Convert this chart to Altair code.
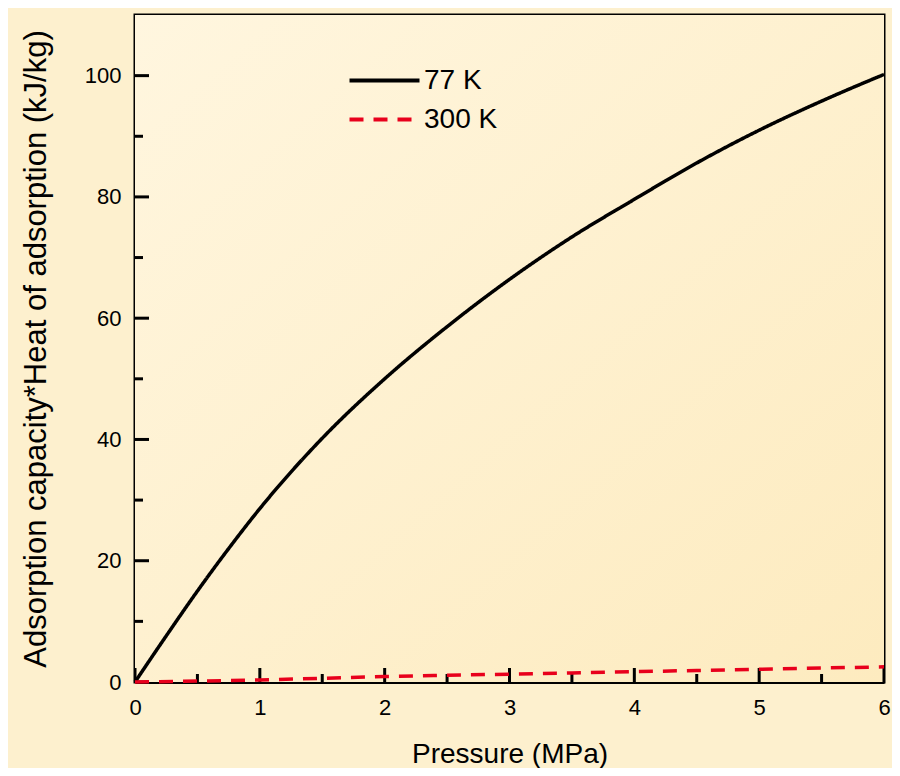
import altair as alt
import pandas as pd

# ---- data ----
pressure_77 = [0, 0.25, 0.5, 0.75, 1, 1.5, 2, 2.5, 3, 3.5, 4, 4.5, 5, 5.5, 6]
value_77 = [0, 7.6, 15.0, 22.0, 28.6, 40.2, 50.0, 58.6, 66.4, 73.4, 79.6, 85.6, 91.0, 95.8, 100.2]

pressure_300 = [0, 0.5, 1, 1.5, 2, 2.5, 3, 3.5, 4, 4.5, 5, 5.5, 6]
value_300 = [0, 0.15, 0.35, 0.6, 0.9, 1.1, 1.3, 1.5, 1.7, 1.9, 2.1, 2.3, 2.5]

series = ["77 K", "300 K"]
series_colors = ["#000000", "#E8001C"]
series_dash = [[1, 0], [14, 10]]

x_domain = [0, 6]
y_domain = [0, 110]
x_major = [0, 1, 2, 3, 4, 5, 6]
x_minor = [0.5, 1.5, 2.5, 3.5, 4.5, 5.5]
y_major = [0, 20, 40, 60, 80, 100]
y_minor = [10, 30, 50, 70, 90]

FONT = "Liberation Sans"

df = pd.concat([
    pd.DataFrame({"p": pressure_77, "v": value_77, "series": series[0]}),
    pd.DataFrame({"p": pressure_300, "v": value_300, "series": series[1]}),
], ignore_index=True)

bg_df = pd.DataFrame({"p": [x_domain[0]], "p2": [x_domain[1]],
                      "v": [y_domain[0]], "v2": [y_domain[1]]})

xtick_df = pd.concat([
    pd.DataFrame({"p": x_major, "v": y_domain[0], "kind": "major"}),
    pd.DataFrame({"p": x_minor, "v": y_domain[0], "kind": "minor"}),
], ignore_index=True)
ytick_df = pd.concat([
    pd.DataFrame({"v": y_major, "p": x_domain[0], "kind": "major"}),
    pd.DataFrame({"v": y_minor, "p": x_domain[0], "kind": "minor"}),
], ignore_index=True)

xs = alt.Scale(domain=x_domain, nice=False, zero=False)
ys = alt.Scale(domain=y_domain, nice=False, zero=False)
tick_size = alt.Scale(domain=["major", "minor"], range=[28, 16])

main_x_axis = alt.Axis(
    orient="bottom", values=x_major, ticks=False, grid=False,
    domainColor="black", domainWidth=3, labelPadding=15, labelFlush=False,
    labelFontSize=22, labelFont=FONT, labelColor="black",
    title="Pressure (MPa)", titleFontSize=28, titleFont=FONT,
    titleFontWeight="normal", titleColor="black", titlePadding=22,
)
main_y_axis = alt.Axis(
    orient="left", values=y_major, ticks=False, grid=False,
    domainColor="black", domainWidth=3, labelPadding=14, labelFlush=False,
    labelFontSize=22, labelFont=FONT, labelColor="black",
    title="Adsorption capacity*Heat of adsorption (kJ/kg)",
    titleFontSize=31, titleFont=FONT, titleFontWeight="normal",
    titleColor="black", titlePadding=32,
)


def X(field):
    return alt.X(field, scale=xs, axis=main_x_axis, title="Pressure (MPa)")


def Y(field):
    return alt.Y(field, scale=ys, axis=main_y_axis,
                 title="Adsorption capacity*Heat of adsorption (kJ/kg)")


# plot-area gradient
bg = alt.Chart(bg_df).mark_rect(
    fill=alt.Gradient(
        gradient="linear",
        stops=[alt.GradientStop(color="#FFF6DF", offset=0),
               alt.GradientStop(color="#FDEBBF", offset=1)],
        x1=0, y1=0, x2=1, y2=1,
    )
).encode(
    x=X("p:Q"), x2="p2:Q",
    y=Y("v:Q"), y2="v2:Q",
)

xticks = alt.Chart(xtick_df).mark_tick(
    orient="vertical", thickness=3, color="black", clip=True, opacity=1
).encode(
    x=X("p:Q"),
    y=Y("v:Q"),
    size=alt.Size("kind:N", scale=tick_size, legend=None),
)

yticks = alt.Chart(ytick_df).mark_tick(
    orient="horizontal", thickness=3, color="black", clip=True, opacity=1
).encode(
    x=X("p:Q"),
    y=Y("v:Q"),
    size=alt.Size("kind:N", scale=tick_size, legend=None),
)

legend = alt.Legend(
    title=None, orient="none", legendX=230, legendY=46,
    symbolType="M-2,0L2,0", symbolSize=1225, symbolStrokeWidth=4,
    labelFontSize=28, labelFont=FONT, labelColor="black",
    labelOffset=20, rowPadding=5, padding=0,
)

lines = alt.Chart(df).mark_line(strokeWidth=3.5, interpolate="monotone").encode(
    x=X("p:Q"),
    y=Y("v:Q"),
    color=alt.Color("series:N", scale=alt.Scale(domain=series, range=series_colors),
                    legend=legend, sort=series),
    strokeDash=alt.StrokeDash("series:N", scale=alt.Scale(domain=series, range=series_dash),
                              legend=legend, sort=series),
)

chart = alt.layer(
    bg, xticks, yticks, lines,
).resolve_scale(
    size="independent"
).properties(
    width=749, height=667,
    autosize=alt.AutoSizeParams(type="none"),
    padding={"left": 127, "top": 7, "right": 8, "bottom": 86},
    background="#FDF0CE",
).configure_view(
    stroke="black", strokeWidth=3,
)

chart.save("out.html", embed_options={"renderer": "svg", "actions": False})
